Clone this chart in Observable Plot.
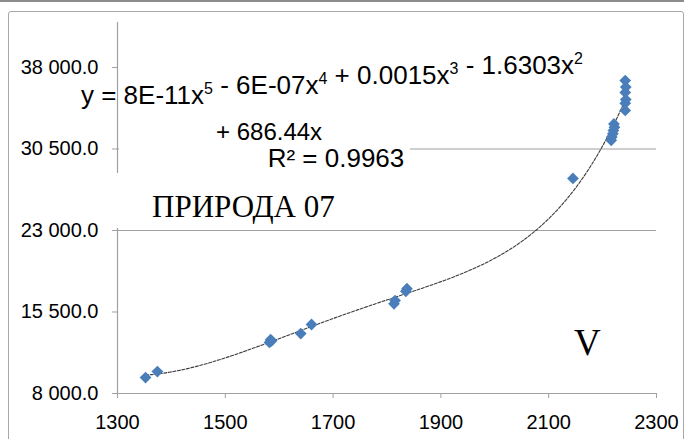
<!DOCTYPE html>
<html>
<head>
<meta charset="utf-8">
<script src="https://cdn.jsdelivr.net/npm/d3@7"></script>
<script src="https://cdn.jsdelivr.net/npm/@observablehq/plot@0.6"></script>
<style>
  html, body { margin: 0; padding: 0; background: #fff; }
  #wrap { position: relative; width: 684px; height: 439px; overflow: hidden; }
  #topline { position: absolute; left: 0; top: 0; width: 684px; height: 2px; background: #8c8c8c; }
  #frame { position: absolute; left: 8px; top: 11px; width: 676px; height: 460px;
           border: 1px solid #a8a8a8; border-radius: 3px; box-sizing: border-box; }
  #chart { position: absolute; left: 0; top: 0; }
</style>
</head>
<body>
<div id="wrap">
  <div id="topline"></div>
  <div id="frame"></div>
  <div id="chart"></div>
</div>
<script>
// Measurements: length (x) against value (y)
const lengths = [1352, 1374, 1582, 1584, 1586, 1640, 1660, 1813, 1815, 1835, 1837,
                 2145, 2216, 2217, 2219, 2220, 2222, 2221, 2242, 2242, 2243, 2242, 2243, 2242];
const values  = [9470, 10020, 12700, 12950, 12850, 13520, 14350, 16250, 16550, 17400, 17650,
                 27790, 31300, 31600, 31900, 32200, 32500, 32800, 34050, 34700, 35050, 35700, 36200, 36800];

const xTicks = [1300, 1500, 1700, 1900, 2100, 2300];
const yTicks = [8000, 15500, 23000, 30500, 38000];
const gridValues = [23000, 30500];

const points = lengths.map((x, i) => ({x, y: values[i]}));

// Least-squares polynomial trend (degree 5, intercept fixed at zero), x in thousands
function polyFit(xs, ys, degree) {
  const n = degree;
  const A = Array.from({length: n}, () => Array(n).fill(0));
  const b = Array(n).fill(0);
  xs.forEach((x, i) => {
    const t = x / 1000;
    const p = d3.range(1, n + 1).map(k => Math.pow(t, k));
    for (let r = 0; r < n; r++) {
      b[r] += p[r] * ys[i];
      for (let c = 0; c < n; c++) A[r][c] += p[r] * p[c];
    }
  });
  for (let col = 0; col < n; col++) {
    let piv = col;
    for (let r = col + 1; r < n; r++) if (Math.abs(A[r][col]) > Math.abs(A[piv][col])) piv = r;
    [A[col], A[piv]] = [A[piv], A[col]];
    [b[col], b[piv]] = [b[piv], b[col]];
    for (let r = col + 1; r < n; r++) {
      const f = A[r][col] / A[col][col];
      for (let c = col; c < n; c++) A[r][c] -= f * A[col][c];
      b[r] -= f * b[col];
    }
  }
  const coef = Array(n).fill(0);
  for (let r = n - 1; r >= 0; r--) {
    let s = b[r];
    for (let c = r + 1; c < n; c++) s -= A[r][c] * coef[c];
    coef[r] = s / A[r][r];
  }
  return x => {
    const t = x / 1000;
    return coef.reduce((s, c, k) => s + c * Math.pow(t, k + 1), 0);
  };
}

const trend = polyFit(lengths, values, 5);
const [xMin, xMax] = d3.extent(lengths);
const trendLine = d3.range(0, 241).map(i => {
  const x = xMin + (xMax - xMin) * i / 240;
  return {x, y: trend(x)};
});

const fmtY = d => d3.format(",.1f")(d).replace(/,/g, " ");
const axisGrey = "#a0a0a0";

const chart = Plot.plot({
  width: 684,
  height: 439,
  marginLeft: 117,
  marginRight: 28,
  marginTop: 22,
  marginBottom: 46,
  style: {fontFamily: "'Liberation Sans', Arial, sans-serif", fontSize: "20px",
          background: "transparent", color: "#000", overflow: "visible"},
  x: {domain: [1300, 2300]},
  y: {domain: [8000, 42140]},
  marks: [
    Plot.ruleY(gridValues, {stroke: axisGrey, strokeWidth: 1.2}),
    Plot.ruleX([1300], {stroke: axisGrey, strokeWidth: 1.2}),
    Plot.ruleY([8000], {stroke: axisGrey, strokeWidth: 1.2}),
    Plot.axisY({ticks: yTicks, tickFormat: fmtY, tickSize: 5, tickPadding: 14,
                stroke: axisGrey, fill: "#000", fontSize: 20, label: null}),
    Plot.axisX({ticks: xTicks, tickFormat: d => String(d), tickSize: 5, tickPadding: 16,
                stroke: axisGrey, fill: "#000", fontSize: 20, label: null}),
    Plot.line(trendLine, {x: "x", y: "y", stroke: "#3c3c3c", strokeWidth: 1.1,
                          strokeDasharray: "3,1.6"}),
    Plot.dot(points, {x: "x", y: "y", symbol: "diamond2", r: 5.3, fill: "#4a7ebb", stroke: "none"})
  ]
});

document.getElementById("chart").appendChild(chart);

// Text boxes on top of the plot: trend equation, series name, panel letter
const svg = d3.select(chart);
const notes = svg.append("g");

notes.append("rect").attr("x", 119).attr("y", 76).attr("width", 291).attr("height", 96).attr("fill", "#fff");
notes.append("rect").attr("x", 114).attr("y", 173).attr("width", 272).attr("height", 55).attr("fill", "#fff");

const eqFont = "'Liberation Sans', Arial, sans-serif";
const line1 = notes.append("text")
  .attr("x", 332).attr("y", 104).attr("text-anchor", "middle")
  .attr("font-family", eqFont).attr("font-size", 26).attr("fill", "#000");
const parts = [["y = 8E-11x", "5"], [" - 6E-07x", "4"], [" + 0.0015x", "3"], [" - 1.6303x", "2"]];
parts.forEach(([base, sup]) => {
  line1.append("tspan").text(base);
  line1.append("tspan").attr("dy", -10).attr("font-size", 16).text(sup);
  line1.append("tspan").attr("dy", 10).text("");
});

notes.append("text")
  .attr("x", 216).attr("y", 140).attr("text-anchor", "start")
  .attr("font-family", eqFont).attr("font-size", 24).attr("fill", "#000")
  .text("+ 686.44x");

notes.append("text")
  .attr("x", 336).attr("y", 167).attr("text-anchor", "middle")
  .attr("font-family", eqFont).attr("font-size", 26).attr("fill", "#000")
  .text("R² = 0.9963");

notes.append("text")
  .attr("x", 152).attr("y", 217).attr("text-anchor", "start")
  .attr("font-family", "'Liberation Serif', 'Times New Roman', serif").attr("font-size", 31).attr("fill", "#000")
  .text("ПРИРОДА 07");

notes.append("text")
  .attr("x", 574).attr("y", 355).attr("text-anchor", "start")
  .attr("font-family", "'Liberation Serif', 'Times New Roman', serif").attr("font-size", 37).attr("fill", "#000")
  .text("V");
</script>
</body>
</html>
